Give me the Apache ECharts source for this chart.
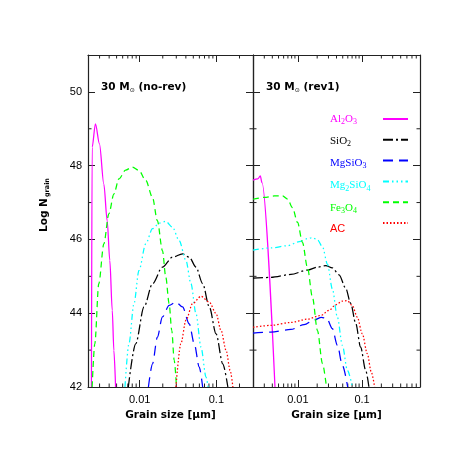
<!DOCTYPE html>
<html>
<meta charset="UTF-8">
<title>grain size distribution</title>
<style type="text/css">
    html,
    body {
        margin: 0px;
        background: #fff;
    }

    #chart {
        width: 474px;
        height: 474px;
    }
</style>
<script src="https://cdn.jsdelivr.net/npm/echarts@6/dist/echarts.min.js"></script>

<body>
    <div id="chart"></div>
    <script>
        // [grain size in micron, log N_grain]
        const species = ['Al2O3', 'SiO2', 'MgSiO3', 'Mg2SiO4', 'Fe3O4', 'AC'];

        // left panel: 30 Msun (no-rev)
        const noRevAl2O3 = [[0.00235, 42.0], [0.00240, 48.5], [0.00265, 49.13], [0.00299, 48.59], [0.00341, 47.5], [0.00377, 46.51], [0.00408, 45.43], [0.00439, 44.08], [0.00461, 42.99], [0.00485, 42.0]];
        const noRevSiO2 = [[0.00711, 42.0], [0.00887, 43.17], [0.0114, 44.17], [0.0147, 44.80], [0.0198, 45.25], [0.0268, 45.52], [0.0362, 45.61], [0.0443, 45.52], [0.0542, 45.25], [0.0662, 44.80], [0.0809, 44.17], [0.0991, 43.44], [0.121, 42.63], [0.141, 42.0]];
        const noRevMgSiO3 = [[0.0130, 42.0], [0.0147, 42.63], [0.0170, 43.35], [0.0198, 43.90], [0.0242, 44.21], [0.0297, 44.30], [0.0362, 44.17], [0.0443, 43.71], [0.0515, 43.17], [0.0598, 42.54], [0.0662, 42.0]];
        const noRevMg2SiO4 = [[0.00643, 42.0], [0.00724, 43.17], [0.00843, 44.26], [0.00979, 45.16], [0.0120, 45.88], [0.0147, 46.29], [0.0179, 46.44], [0.0219, 46.49], [0.0268, 46.33], [0.0327, 45.97], [0.0401, 45.43], [0.0466, 44.80], [0.0542, 43.99], [0.0630, 43.08], [0.0733, 42.27], [0.0778, 42.0]];
        const noRevFe3O4 = [[0.00240, 42.0], [0.00260, 43.17], [0.00293, 44.80], [0.00341, 45.88], [0.00396, 46.69], [0.00461, 47.23], [0.00536, 47.64], [0.00656, 47.88], [0.00802, 47.96], [0.00979, 47.87], [0.0120, 47.60], [0.0147, 47.14], [0.0170, 46.51], [0.0198, 45.70], [0.0219, 44.98], [0.0242, 44.26], [0.0262, 43.53], [0.0282, 42.72], [0.0302, 42.0]];
        const noRevAC = [[0.0297, 42.0], [0.0344, 43.17], [0.0401, 43.81], [0.0490, 44.26], [0.0630, 44.46], [0.0809, 44.30], [0.0991, 43.99], [0.115, 43.53], [0.134, 42.99], [0.151, 42.45], [0.164, 42.0]];

        // right panel: 30 Msun (rev1)
        const rev1Al2O3 = [[0.00200, 47.61], [0.00237, 47.64], [0.00260, 47.72], [0.00276, 47.54], [0.00440, 42.0]];
        const rev1SiO2 = [[0.00200, 44.95], [0.00381, 44.97], [0.00778, 45.05], [0.0141, 45.17], [0.0202, 45.25], [0.0272, 45.29], [0.0345, 45.23], [0.0439, 45.04], [0.0556, 44.68], [0.0665, 44.27], [0.0796, 43.73], [0.0951, 43.08], [0.114, 42.45], [0.128, 42.0]];
        const rev1MgSiO3 = [[0.00200, 43.46], [0.00381, 43.49], [0.00778, 43.56], [0.0125, 43.69], [0.0180, 43.82], [0.0233, 43.89], [0.0282, 43.86], [0.0345, 43.58], [0.0413, 43.13], [0.0494, 42.59], [0.0597, 42.0]];
        const rev1Mg2SiO4 = [[0.00200, 45.71], [0.00381, 45.77], [0.00692, 45.83], [0.0105, 45.94], [0.0141, 46.02], [0.0169, 46.05], [0.0202, 45.99], [0.0242, 45.80], [0.0289, 45.33], [0.0345, 44.66], [0.0413, 43.89], [0.0494, 43.13], [0.0592, 42.45], [0.0706, 42.0]];
        const rev1Fe3O4 = [[0.00200, 47.09], [0.00300, 47.14], [0.00430, 47.18], [0.00578, 47.18], [0.00692, 47.09], [0.00826, 46.86], [0.00989, 46.46], [0.0118, 45.92], [0.0141, 45.24], [0.0169, 44.43], [0.0202, 43.53], [0.0242, 42.63], [0.0279, 42.0]];
        const rev1AC = [[0.00200, 43.62], [0.00381, 43.67], [0.00778, 43.75], [0.0141, 43.84], [0.0228, 43.94], [0.0307, 44.08], [0.0389, 44.23], [0.0494, 44.33], [0.0590, 44.34], [0.0706, 44.21], [0.0845, 43.89], [0.101, 43.44], [0.121, 42.90], [0.139, 42.41], [0.157, 42.0]];

        const panelTitles = ['(no-rev)', '(rev1)'];
        const xRanges = [[0.00212, 0.3], [0.002, 0.8]];
        const minorXTicks = [0.002, 0.003, 0.004, 0.005, 0.006, 0.007, 0.008, 0.009,
            0.02, 0.03, 0.04, 0.05, 0.06, 0.07, 0.08, 0.09,
            0.2, 0.3, 0.4, 0.5, 0.6, 0.7, 0.8];
        const minorYTicks = [43, 45, 47, 49];
        const yRange = [42, 51];

        const colors = {
            Al2O3: '#ff00ff', SiO2: '#000000', MgSiO3: '#0000ff',
            Mg2SiO4: '#00ffff', Fe3O4: '#00ff00', AC: '#ff0000'
        };
        const dashes = {
            Al2O3: 'solid', SiO2: [10, 3, 2, 3], MgSiO3: [10, 6],
            Mg2SiO4: [6, 3, 1.5, 3, 1.5, 3, 1.5, 3], Fe3O4: [6, 4], AC: [1.5, 2]
        };
        // subscripts for the legend
        const legendRich = {
            Al2O3: '{n|Al}{s|2}{n|O}{s|3}',
            SiO2: '{n|SiO}{s|2}',
            MgSiO3: '{n|MgSiO}{s|3}',
            Mg2SiO4: '{n|Mg}{s|2}{n|SiO}{s|4}',
            Fe3O4: '{n|Fe}{s|3}{n|O}{s|4}',
            AC: '{a|AC}'
        };

        const panels = [
            [noRevAl2O3, noRevSiO2, noRevMgSiO3, noRevMg2SiO4, noRevFe3O4, noRevAC],
            [rev1Al2O3, rev1SiO2, rev1MgSiO3, rev1Mg2SiO4, rev1Fe3O4, rev1AC]
        ];

        const frame = { show: true, lineStyle: { color: '#222', width: 1.2 } };
        const labelFont = { fontFamily: 'Liberation Sans', fontSize: 11, color: '#000' };
        const TICK = 7, MINOR = 3.5;

        const grids = [
            { left: 88, top: 55, width: 165, height: 332 },
            { left: 253, top: 55, width: 167, height: 332 }
        ];

        const xAxes = [];
        const yAxes = [];
        grids.forEach((g, gi) => {
            const [xmin, xmax] = xRanges[gi];
            ['bottom', 'top'].forEach(pos => {
                xAxes.push({
                    type: 'log', logBase: 10, gridIndex: gi, position: pos,
                    min: xmin, max: xmax,
                    axisLine: frame,
                    axisTick: { inside: true, length: TICK, lineStyle: { color: '#222' } },
                    axisLabel: pos === 'bottom' ? Object.assign({
                        margin: 7, showMinLabel: false, showMaxLabel: false,
                        formatter: v => String(+v.toPrecision(1))
                    }, labelFont) : { show: false },
                    splitLine: { show: false },
                    name: pos === 'bottom' ? 'Grain size [\u03bcm]' : '',
                    nameLocation: 'middle', nameGap: 23,
                    nameTextStyle: { fontFamily: 'DejaVu Sans', fontWeight: 'bold', fontSize: 10.5, color: '#000' }
                });
            });
            ['left', 'right'].forEach(pos => {
                const labelled = gi === 0 && pos === 'left';
                yAxes.push({
                    type: 'value', gridIndex: gi, position: pos,
                    min: yRange[0], max: yRange[1], interval: 2,
                    axisLine: frame,
                    axisTick: { inside: true, length: TICK, lineStyle: { color: '#222' } },
                    axisLabel: labelled ? Object.assign({ margin: 6, showMaxLabel: false }, labelFont) : { show: false },
                    splitLine: { show: false },
                    name: labelled ? '{a|Log N}{s|grain}' : '',
                    nameLocation: 'middle', nameGap: 37,
                    nameTextStyle: {
                        fontFamily: 'DejaVu Sans', fontWeight: 'bold', fontSize: 10.5, color: '#000',
                        padding: [0, 0, 0, 32],
                        rich: {
                            a: { fontFamily: 'DejaVu Sans', fontWeight: 'bold', fontSize: 10.5 },
                            s: { fontFamily: 'DejaVu Sans', fontWeight: 'bold', fontSize: 6.5, padding: [6, 0, 0, 1] }
                        }
                    }
                });
            });
        });

        const tickStyle = { stroke: '#222', lineWidth: 1 };
        const series = [];
        panels.forEach((curves, gi) => {
            const [xmin, xmax] = xRanges[gi];
            curves.forEach((data, si) => {
                const name = species[si];
                series.push({
                    name: name, type: 'line', data: data,
                    xAxisIndex: gi * 2, yAxisIndex: gi * 2,
                    showSymbol: false, symbol: 'none',
                    smooth: 0.3, smoothMonotone: 'x',
                    clip: true,
                    lineStyle: { color: colors[name], type: dashes[name], width: 1.25 },
                    itemStyle: { color: colors[name] },
                    emphasis: { disabled: true }
                });
            });
            // minor log ticks on the bottom and top edges
            series.push({
                type: 'custom', xAxisIndex: gi * 2, yAxisIndex: gi * 2, silent: true, clip: false,
                data: minorXTicks.filter(v => v > xmin && v < xmax).map(v => [v, yRange[0]]),
                renderItem: (params, api) => {
                    const b = api.coord([api.value(0), yRange[0]]);
                    const t = api.coord([api.value(0), yRange[1]]);
                    return {
                        type: 'group', children: [
                            { type: 'line', shape: { x1: b[0], y1: b[1], x2: b[0], y2: b[1] - MINOR }, style: tickStyle },
                            { type: 'line', shape: { x1: t[0], y1: t[1], x2: t[0], y2: t[1] + MINOR }, style: tickStyle }
                        ]
                    };
                }
            });
            // minor ticks on the left and right edges
            series.push({
                type: 'custom', xAxisIndex: gi * 2, yAxisIndex: gi * 2, silent: true, clip: false,
                data: minorYTicks.map(v => [xmin, v]),
                renderItem: (params, api) => {
                    const l = api.coord([xmin, api.value(1)]);
                    const r = api.coord([xmax, api.value(1)]);
                    return {
                        type: 'group', children: [
                            { type: 'line', shape: { x1: l[0], y1: l[1], x2: l[0] + MINOR, y2: l[1] }, style: tickStyle },
                            { type: 'line', shape: { x1: r[0], y1: r[1], x2: r[0] - MINOR, y2: r[1] }, style: tickStyle }
                        ]
                    };
                }
            });
        });

        const titleRich = {
            b: { fontFamily: 'DejaVu Sans', fontWeight: 'bold', fontSize: 10.5, fill: '#000' },
            s: { fontFamily: 'DejaVu Sans', fontSize: 6, fill: '#000', padding: [5, 0, 0, 0] }
        };

        const legendBase = {
            orient: 'vertical', top: 112, itemGap: 8.2, padding: 0,
            itemHeight: 14, selectedMode: false
        };

        const chart = echarts.init(document.getElementById('chart'), null, { renderer: 'canvas' });
        chart.setOption({
            animation: false,
            backgroundColor: '#fff',
            grid: grids,
            xAxis: xAxes,
            yAxis: yAxes,
            legend: [
                // names only
                Object.assign({}, legendBase, {
                    left: 325, icon: 'rect', itemWidth: 0,
                    itemStyle: { opacity: 0 }, lineStyle: { opacity: 0 },
                    data: species.map(n => ({ name: n, textStyle: { color: colors[n] } })),
                    formatter: n => legendRich[n],
                    textStyle: {
                        height: 14,
                        fontFamily: 'Liberation Serif', fontSize: 11,
                        rich: {
                            n: { fontFamily: 'Liberation Serif', fontSize: 11 },
                            s: { fontFamily: 'Liberation Serif', fontSize: 8, padding: [6, 0, 0, 0] },
                            a: { fontFamily: 'Liberation Sans', fontSize: 11 }
                        }
                    }
                }),
                // line samples only
                Object.assign({}, legendBase, {
                    left: 382, itemWidth: 25,
                    itemStyle: { opacity: 0 },
                    data: species,
                    formatter: () => '',
                    textStyle: { height: 14 }
                })
            ],
            graphic: panelTitles.map((t, i) => ({
                type: 'text', left: [101, 266][i], top: 82,
                style: { text: '{b|30 M}{s|\u2299}{b| ' + t + '}', rich: titleRich }
            })),
            series: series
        });
    </script>
</body>

</html>
